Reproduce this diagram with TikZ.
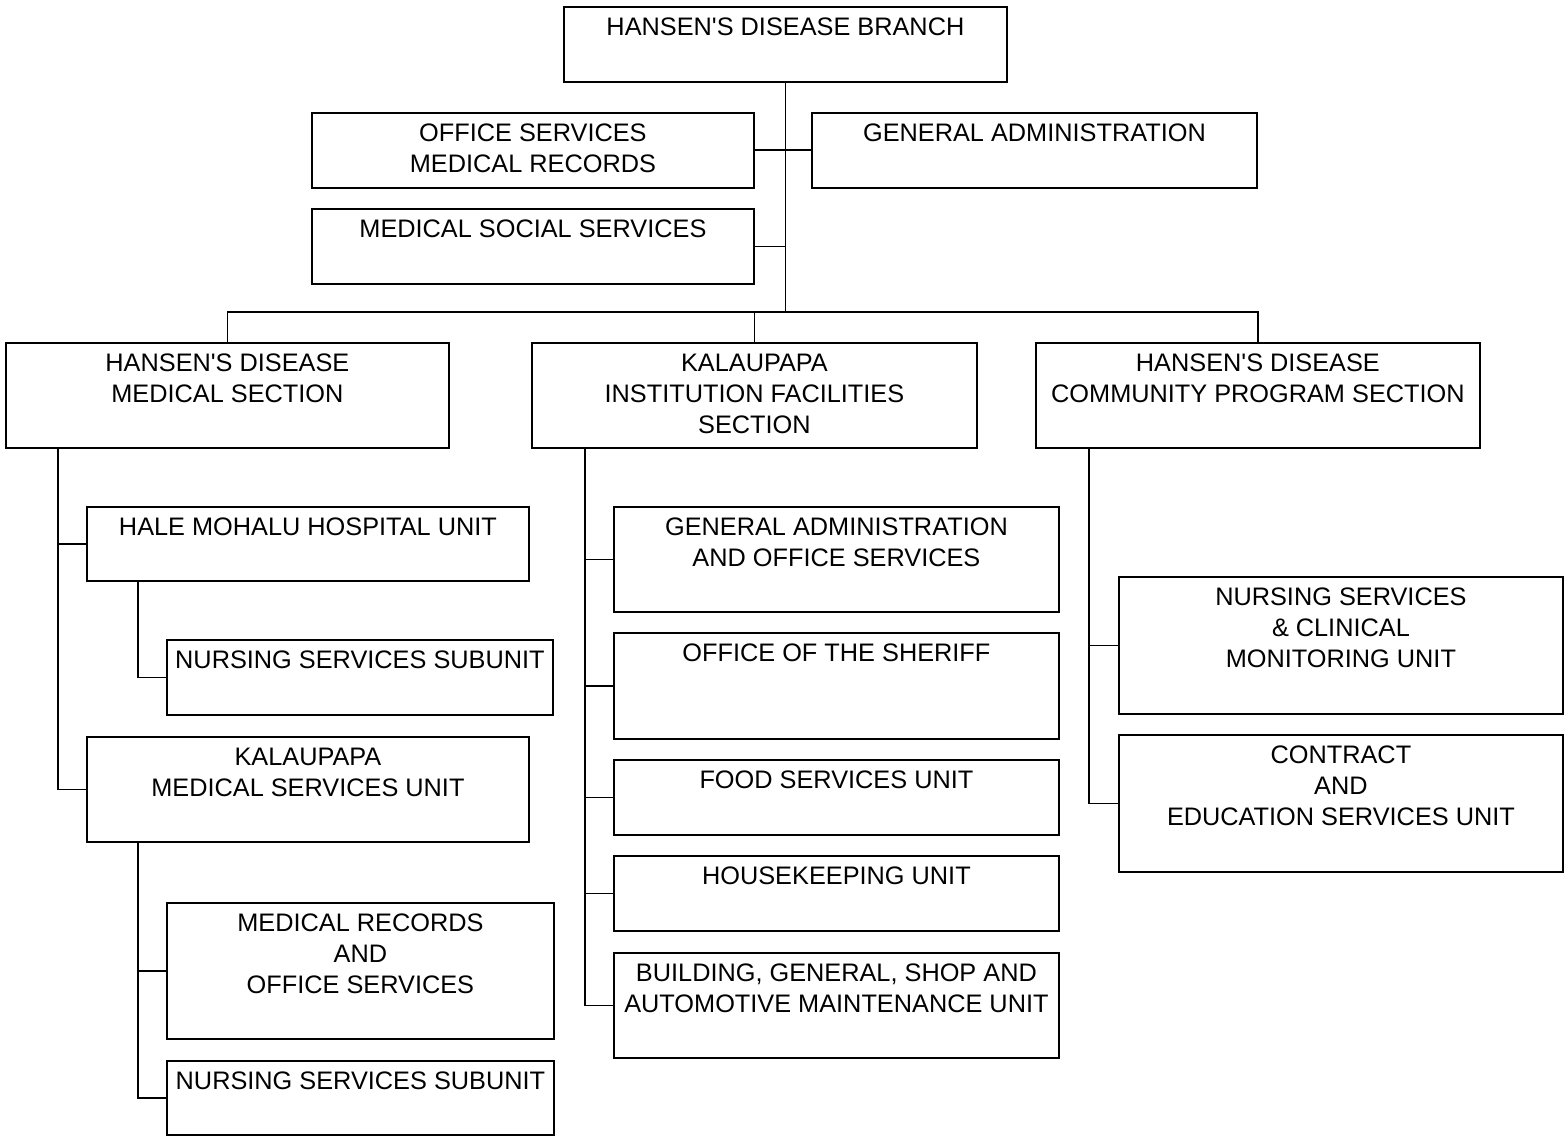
\documentclass[tikz,border=0pt]{standalone}
\usepackage{fontspec}
\setmainfont{Liberation Sans}

\tikzset{
  unitbox/.style={draw, line width=1.3pt, anchor=north west, inner sep=0pt},
  boxtext/.style={anchor=north, yshift=-0.3cm, inner sep=0pt, align=center,
    font=\fontsize{18}{22}\selectfont},
  link/.style={line width=1.3pt}
}
% box: name, x, y, width, height, text
\newcommand{\orgbox}[6]{%
  \node[unitbox, minimum width=#4*0.025cm, minimum height=#5*0.025cm,
    label={[boxtext]north:{#6}}] (#1) at (#2,#3) {};}
\newcommand{\hd}{HANSEN\textquotesingle S DISEASE}

\begin{document}
\begin{tikzpicture}[x=0.025cm, y=-0.025cm]
\useasboundingbox (0,0) rectangle (1564,1136);

% top of the branch
\orgbox{branch}{563}{6}{443}{75}{\hd{} BRANCH}
\orgbox{office}{311}{112}{442}{75}{OFFICE SERVICES\\MEDICAL RECORDS}
\orgbox{genadm}{811}{112}{445}{75}{GENERAL ADMINISTRATION}
\orgbox{medsoc}{311}{208}{442}{75}{MEDICAL SOCIAL SERVICES}

% sections
\orgbox{medsec}{5}{342}{443}{105}{\hd\\MEDICAL SECTION}
\orgbox{kalsec}{531}{342}{445}{105}{KALAUPAPA\\INSTITUTION FACILITIES\\SECTION}
\orgbox{comsec}{1035}{342}{444}{105}{\hd\\COMMUNITY PROGRAM SECTION}

% medical section units
\orgbox{hmhu}{86}{506}{442}{74}{HALE MOHALU HOSPITAL UNIT}
\orgbox{nssa}{166}{639}{386}{75}{NURSING SERVICES SUBUNIT}
\orgbox{kmsu}{86}{736}{442}{105}{KALAUPAPA\\MEDICAL SERVICES UNIT}
\orgbox{mrec}{166}{902}{387}{136}{MEDICAL RECORDS\\AND\\OFFICE SERVICES}
\orgbox{nssb}{166}{1060}{387}{74}{NURSING SERVICES SUBUNIT}

% institution facilities units
\orgbox{gaos}{613}{506}{445}{105}{GENERAL ADMINISTRATION\\AND OFFICE SERVICES}
\orgbox{sheriff}{613}{632}{445}{106}{OFFICE OF THE SHERIFF}
\orgbox{food}{613}{759}{445}{75}{FOOD SERVICES UNIT}
\orgbox{house}{613}{855}{445}{75}{HOUSEKEEPING UNIT}
\orgbox{bldg}{613}{952}{445}{105}{BUILDING, GENERAL, SHOP AND\\AUTOMOTIVE MAINTENANCE UNIT}

% community program units
\orgbox{nurs}{1118}{576}{444}{137}{NURSING SERVICES\\\& CLINICAL\\MONITORING UNIT}
\orgbox{contract}{1118}{734}{444}{137}{CONTRACT\\AND\\EDUCATION SERVICES UNIT}

% trunk and bar
\coordinate (bar) at (782,312);
\draw[link] (branch.south) -- (branch.south |- bar);
\draw[link] (office.east) -- (genadm.west);
\draw[link] (medsoc.east) -- (branch.south |- medsoc.east);
\draw[link] (medsec.north) -- ++(0,-30) -| (comsec.north);
\draw[link] (kalsec.north) -- ++(0,-30);

% medical section
\coordinate (medstem) at (58,447);
\draw[link] (medstem) |- (kmsu.west);
\draw[link] (hmhu.west) -- (hmhu.west -| medstem);
\coordinate (hmstem) at (138,580);
\draw[link] (hmstem) |- (nssa.west);
\coordinate (kmstem) at (138,841);
\draw[link] (kmstem) |- (nssb.west);
\draw[link] (mrec.west) -- (mrec.west -| kmstem);

% institution facilities section
\coordinate (kalstem) at (585,447);
\draw[link] (kalstem) |- (bldg.west);
\foreach \u in {gaos, sheriff, food, house}
  \draw[link] (\u.west) -- (\u.west -| kalstem);

% community program section
\coordinate (comstem) at (1089,447);
\draw[link] (comstem) |- (contract.west);
\draw[link] (nurs.west) -- (nurs.west -| comstem);
\end{tikzpicture}
\end{document}
